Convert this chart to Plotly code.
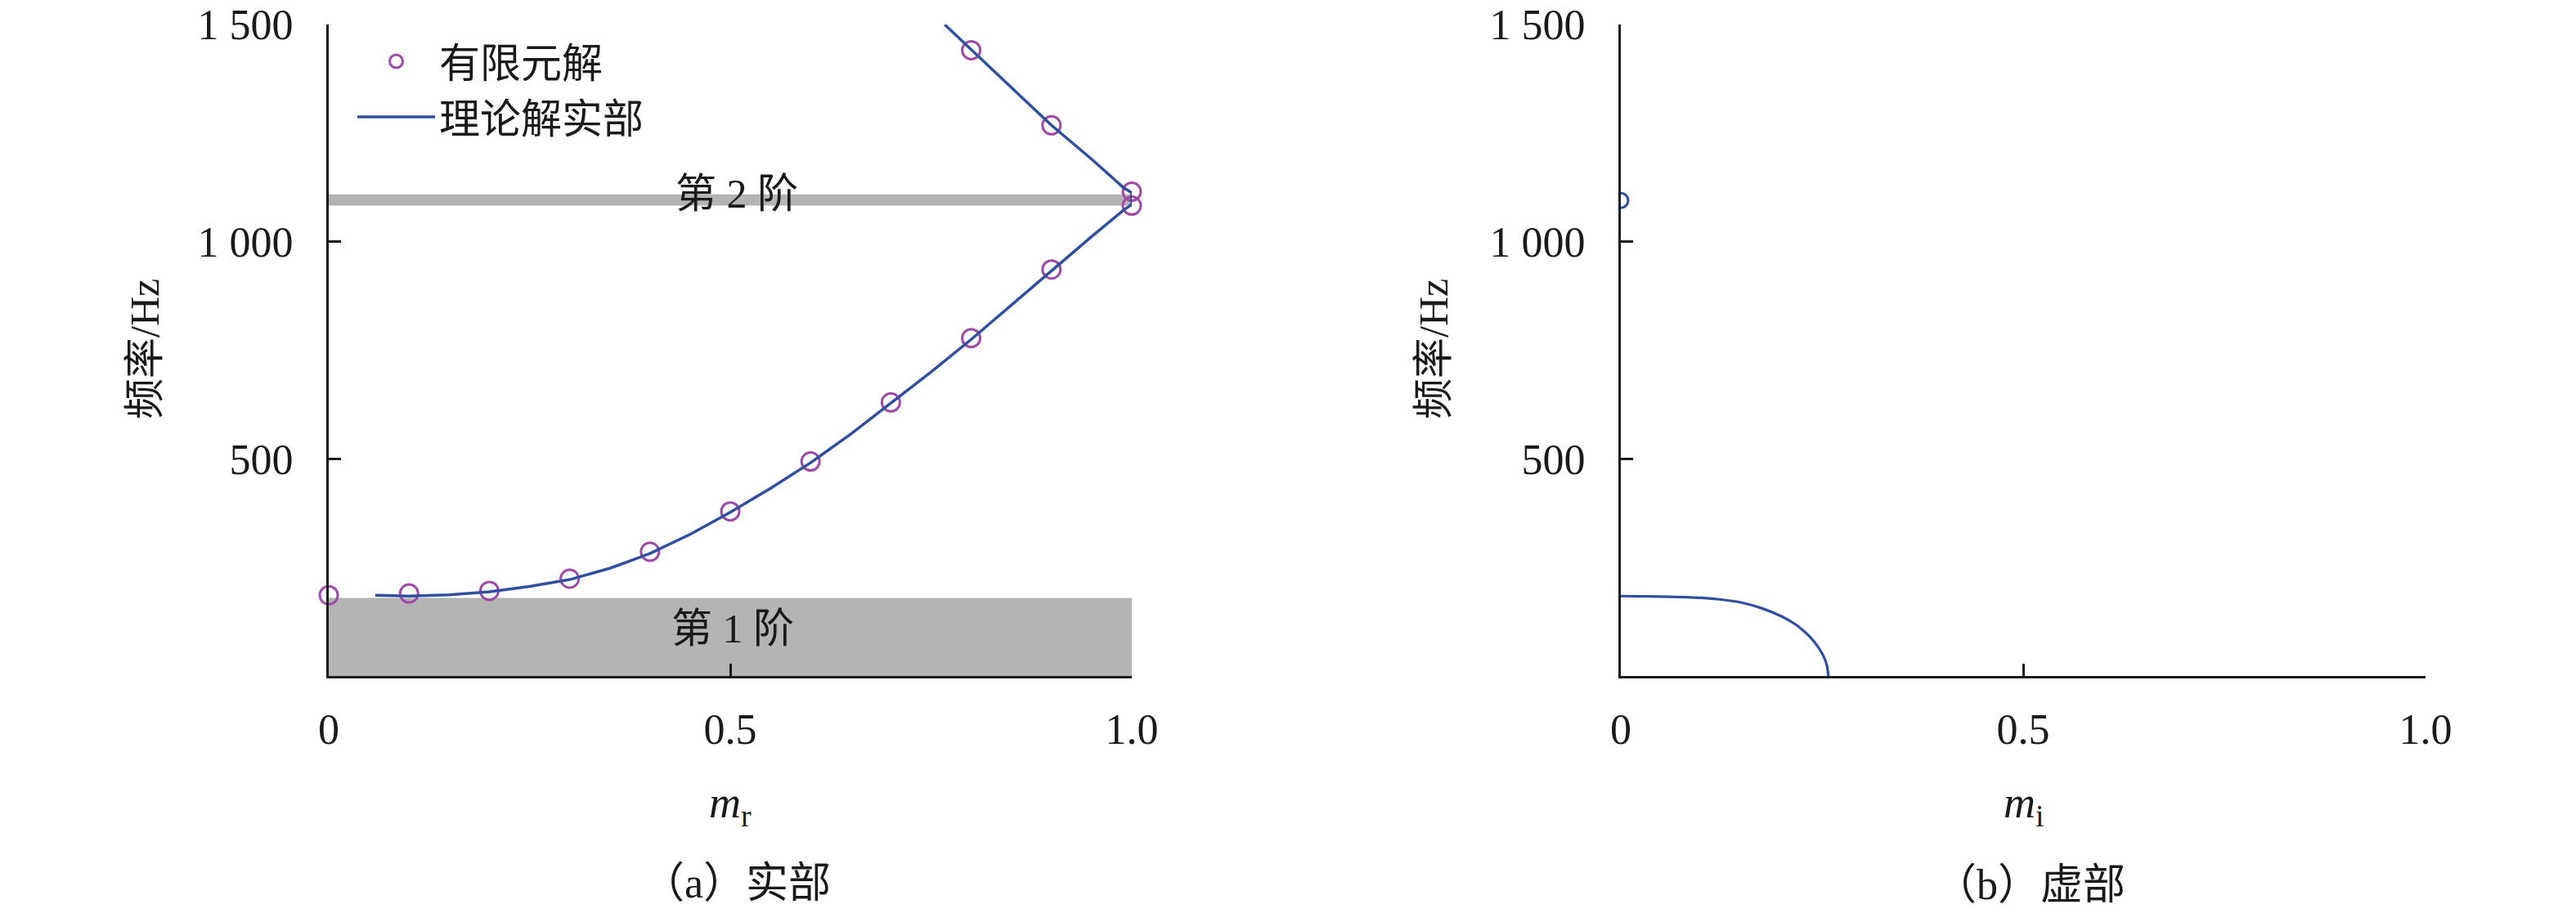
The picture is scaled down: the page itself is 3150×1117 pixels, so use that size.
import plotly.graph_objects as go

# ---- data ----
fe_x_lower = [0.0, 0.1, 0.2, 0.3, 0.4, 0.5, 0.6, 0.7, 0.8, 0.9, 1.0]
fe_y_lower = [186, 190, 196, 224, 286, 379, 494, 630, 778, 936, 1083]
fe_x_upper = [0.8, 0.9, 1.0]
fe_y_upper = [1441, 1268, 1115]

th_x_real = [0.767, 0.8, 0.85, 0.9, 0.95, 0.99, 1.0,
             1.0, 0.99, 0.95, 0.9, 0.85, 0.8, 0.75, 0.7, 0.65, 0.6, 0.55,
             0.5, 0.45, 0.4, 0.35, 0.3, 0.25, 0.2, 0.15, 0.1, 0.058]
th_y_real = [1500, 1442, 1355, 1268, 1190, 1124, 1113,
             1086, 1073, 1012, 933, 853, 775, 700, 628, 557, 491, 432,
             377, 326, 282, 248, 222, 206, 194, 187, 184, 186]

th_x_imag = [0.0, 0.05, 0.10, 0.125, 0.15, 0.175, 0.20, 0.22, 0.235, 0.245, 0.252, 0.256, 0.258]
th_y_imag = [184, 183, 180, 176, 169, 156, 137, 115, 90, 67, 45, 25, 0]

imag_pt_x = [0.0]
imag_pt_y = [1095]

band1 = (0, 180)      # 第1阶 band (Hz)
band2 = (1083, 1109)  # 第2阶 band (Hz)

y_tickvals = [500, 1000, 1500]
y_ticktext = ["500", "1 000", "1 500"]
x_tickvals = [0, 0.5, 1.0]
x_ticktext = ["0", "0.5", "1.0"]

# ---- styles ----
FONT = "Liberation Serif, Noto Sans CJK SC"
PURPLE = "#a04aa8"
BLUE = "#2f4f9f"
GRAY = "#b4b4b4"
AX = "#1a1a1a"

W, H = 3150, 1117
fig = go.Figure()

fig.add_trace(go.Scatter(
    x=fe_x_lower + fe_x_upper, y=fe_y_lower + fe_y_upper, mode="markers",
    name="有限元解", cliponaxis=False,
    marker=dict(symbol="circle-open", size=22, color=PURPLE, line=dict(width=3, color=PURPLE)),
    xaxis="x", yaxis="y"))
fig.add_trace(go.Scatter(
    x=th_x_real, y=th_y_real, mode="lines", name="理论解实部", cliponaxis=False,
    line=dict(color=BLUE, width=3.5), xaxis="x", yaxis="y"))
fig.add_trace(go.Scatter(
    x=th_x_imag, y=th_y_imag, mode="lines", showlegend=False, cliponaxis=False,
    line=dict(color=BLUE, width=3.2, shape="spline", smoothing=0.6), xaxis="x2", yaxis="y2"))
fig.add_trace(go.Scatter(
    x=imag_pt_x, y=imag_pt_y, mode="markers", showlegend=False, cliponaxis=True,
    marker=dict(symbol="circle-open", size=18, color=BLUE, line=dict(width=3, color=BLUE)),
    xaxis="x2", yaxis="y2"))

# bands
for (y0, y1) in (band1, band2):
    fig.add_shape(type="rect", xref="x", yref="y", x0=0, x1=1, y0=y0, y1=y1,
                  fillcolor=GRAY, line=dict(width=0), layer="below")

ydom = [0.2596, 0.9731]
axis_common = dict(showline=True, linecolor=AX, linewidth=3, ticks="inside",
                   ticklen=15, tickwidth=3, tickcolor=AX, showgrid=False,
                   zeroline=False, automargin=False,
                   tickfont=dict(family=FONT, size=52, color="#1a1a1a"))

fig.update_layout(
    width=W, height=H, margin=dict(l=0, r=0, t=0, b=0, pad=0, autoexpand=False),
    paper_bgcolor="white", plot_bgcolor="white",
    font=dict(family=FONT, size=50, color="#1a1a1a"),
    xaxis=dict(domain=[402 / W, 1384 / W], range=[0, 1], tickvals=x_tickvals, ticktext=x_ticktext,
               anchor="y", ticklabelstandoff=18, **axis_common),
    yaxis=dict(domain=ydom, range=[0, 1500], tickvals=y_tickvals, ticktext=y_ticktext,
               anchor="x", ticklabelstandoff=30, **axis_common),
    xaxis2=dict(domain=[1982 / W, 2966 / W], range=[0, 1], tickvals=x_tickvals, ticktext=x_ticktext,
                anchor="y2", ticklabelstandoff=18, **axis_common),
    yaxis2=dict(domain=ydom, range=[0, 1500], tickvals=y_tickvals, ticktext=y_ticktext,
                anchor="x2", ticklabelstandoff=30, **axis_common),
    legend=dict(x=432 / W, y=1 - 36 / H, xanchor="left", yanchor="top",
                font=dict(family=FONT, size=50, color="#1a1a1a"),
                bgcolor="rgba(0,0,0,0)", itemwidth=95, tracegroupgap=0),
    showlegend=True,
)

ann = [
    dict(text="第 2 阶", x=0.508, y=1111, xref="x", yref="y"),
    dict(text="第 1 阶", x=0.503, y=109, xref="x", yref="y"),
    dict(text="频率/Hz", x=177 / W, y=1 - 427 / H, xref="paper", yref="paper", textangle=-90),
    dict(text="频率/Hz", x=1753 / W, y=1 - 427 / H, xref="paper", yref="paper", textangle=-90),
    dict(text="<i>m</i><sub>r</sub>", x=893 / W, y=1 - 985 / H, xref="paper", yref="paper", size=54),
    dict(text="<i>m</i><sub>i</sub>", x=2475 / W, y=1 - 985 / H, xref="paper", yref="paper", size=54),
    dict(text="（a）实部", x=900 / W, y=1 - 1080 / H, xref="paper", yref="paper", size=52),
    dict(text="（b）虚部", x=2482 / W, y=1 - 1082 / H, xref="paper", yref="paper", size=52),
]
for a in ann:
    size = a.pop("size", 50)
    fig.add_annotation(showarrow=False, xanchor="center", yanchor="middle",
                       font=dict(family=FONT, size=size, color="#1a1a1a"), **a)

fig.write_html("out.html", config={"displayModeBar": False},
               post_script="document.body.style.margin='0';document.body.style.overflow='hidden';")
